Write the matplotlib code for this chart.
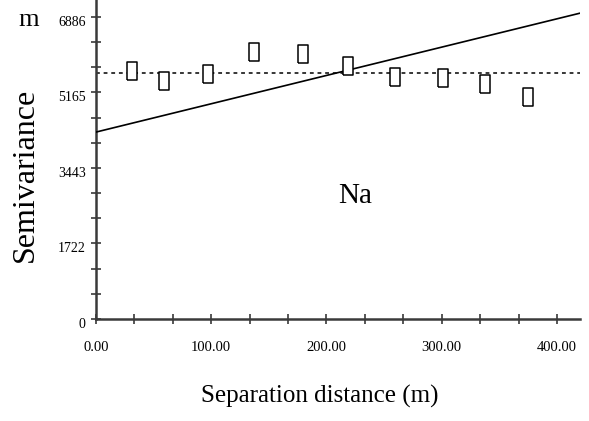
import numpy as np
import matplotlib
matplotlib.use('Agg')
import matplotlib.pyplot as plt
from matplotlib.transforms import ScaledTranslation

plt.rcParams['font.family'] = ['Liberation Serif', 'DejaVu Serif']

# Experimental semivariogram (lag distance, semivariance)
lag_distance = [31.6, 59.4, 97.5, 137.3, 179.5, 218.5, 259.3, 300.9, 337.5, 374.5]
semivariance = [5661, 5426, 5586, 6094, 6042, 5775, 5524, 5495, 5358, 5055]

# Fitted linear model (end points) and sample variance
model_x = [0, 420]
model_y = [4260, 6970]
sample_variance = 5600

x_tick_labels = ['0.00', '100.00', '200.00', '300.00', '400.00']
y_tick_labels = ['0', '1722', '3443', '5165', '6886']
y_top_tick = 6886

fig = plt.figure(figsize=(5.89, 4.21), dpi=100)
ax = fig.add_axes([0.163, 0.2423, 0.8217, 0.7577])

axis_col = '#3a3a3a'

# data
ax.axhline(sample_variance, color='black', lw=1.1, ls=(0, (2.5, 2.5)), zorder=2)
ax.plot(model_x, model_y, color='black', lw=1.2, zorder=3)
box = [(-0.31, -0.5), (0.31, -0.5), (0.31, 0.5), (-0.31, 0.5), (-0.31, -0.5)]
ax.plot(lag_distance, semivariance, ls='none', marker=box, markersize=12.5,
        markerfacecolor='white', markeredgecolor='black', markeredgewidth=1.1, zorder=4)

ax.set_xlim(0, 420)
ax.set_ylim(0, 7270)

# ticks
xt = np.linspace(0, 400, 13)
ax.set_xticks(xt)
ax.set_xticklabels([x_tick_labels[i // 3] if i % 3 == 0 else '' for i in range(13)])
yt = np.linspace(0, y_top_tick, 13)
ax.set_yticks(yt)
ax.set_yticklabels([y_tick_labels[i // 3] if i % 3 == 0 else '' for i in range(13)])

ax.tick_params(axis='both', direction='inout', length=7, width=1.2, color=axis_col)
ax.tick_params(axis='x', labelsize=10.5, pad=12)
ax.tick_params(axis='y', labelsize=10, pad=4)

for lab in ax.get_yticklabels():
    lab.set_transform(lab.get_transform() + ScaledTranslation(0, -0.04, fig.dpi_scale_trans))

for s in ['top', 'right']:
    ax.spines[s].set_visible(False)
for s in ['left', 'bottom']:
    ax.spines[s].set_color(axis_col)
    ax.spines[s].set_linewidth(1.8)

ax.patch.set_alpha(0)

# text
fig.text(25 / 589, 1 - 175 / 421, 'Semivariance', rotation=90, fontsize=23,
         ha='center', va='center')
fig.text(29 / 589, 1 - 20 / 421, 'm', fontsize=19, ha='center', va='center')
fig.text(320 / 589, 1 - 396 / 421, 'Separation distance (m)', fontsize=18,
         ha='center', va='center')
ax.text(225, 2810, 'Na', fontsize=21, ha='center', va='center')

fig.savefig('out.png', dpi=100)
